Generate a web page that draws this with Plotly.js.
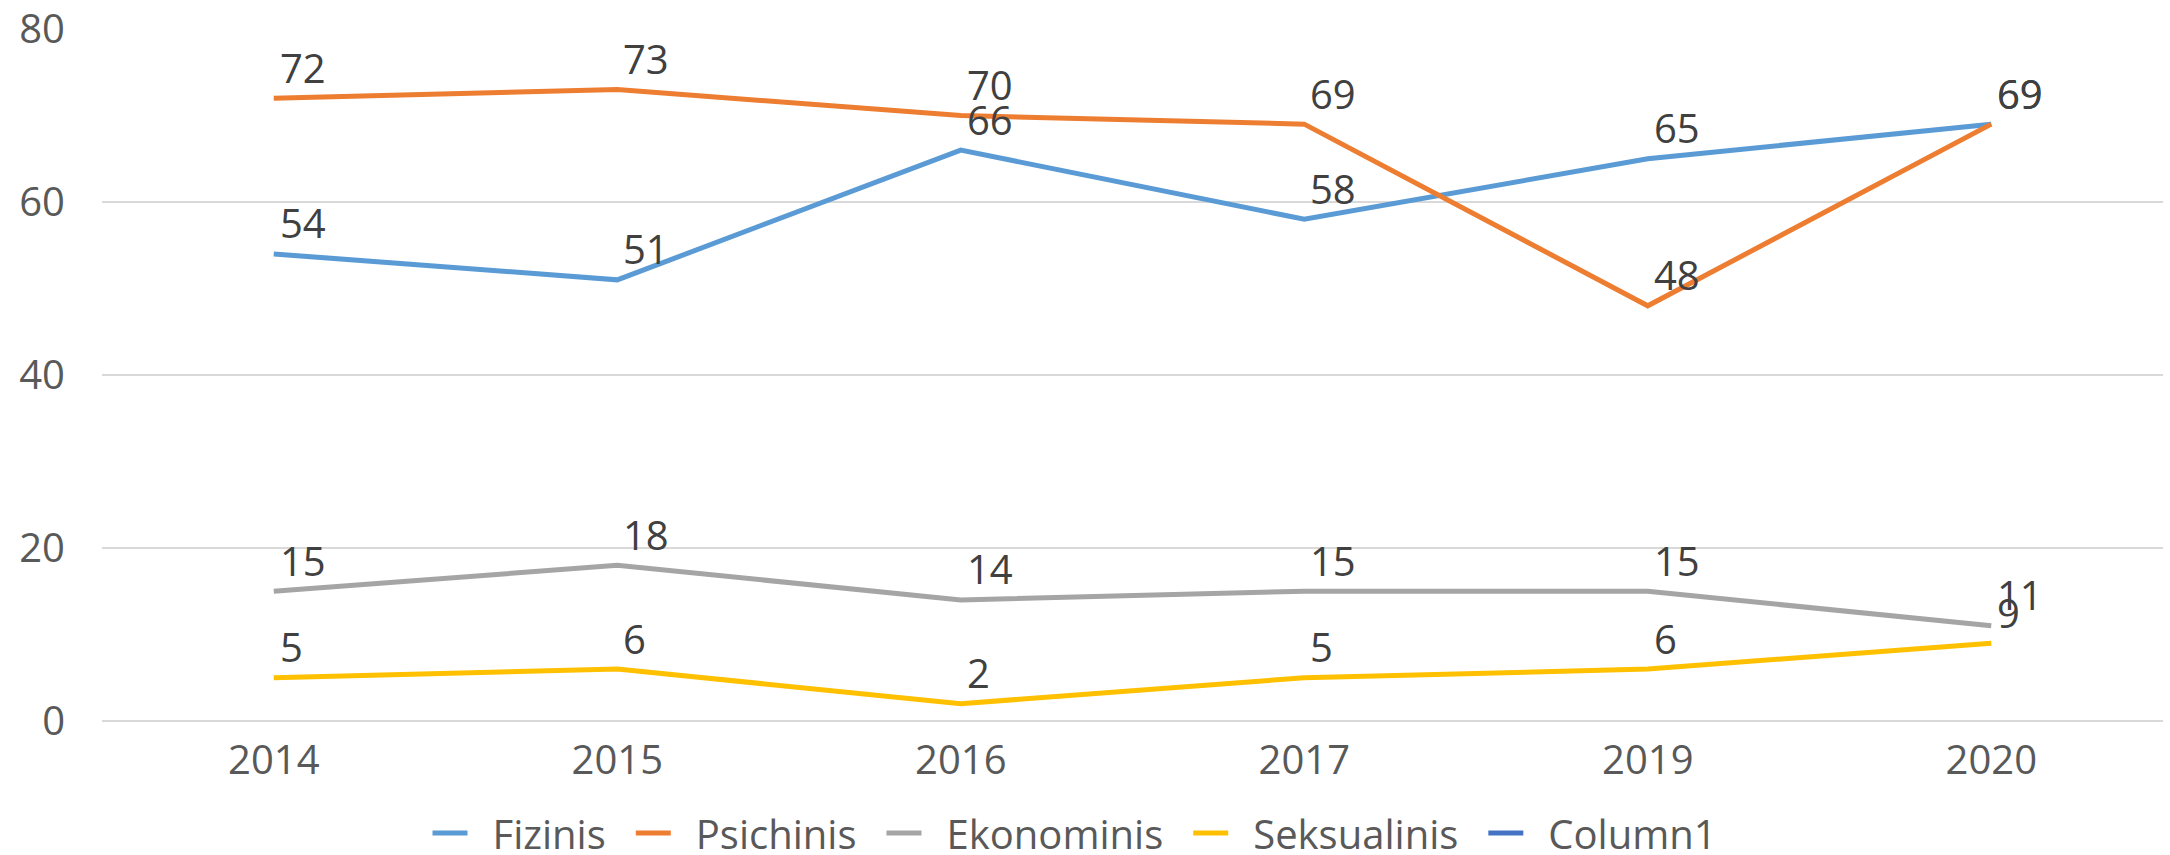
<!DOCTYPE html>
<html>
<head>
<meta charset="utf-8">
<script src="https://cdn.plot.ly/plotly-3.0.1.min.js"></script>
<style>html,body{margin:0;padding:0;background:#fff;}#chart{width:2170px;height:855px;}</style>
</head>
<body>
<div id="chart"></div>
<script>
const years = ["2014", "2015", "2016", "2017", "2019", "2020"];
const fizinis = [54, 51, 66, 58, 65, 69];
const psichinis = [72, 73, 70, 69, 48, 69];
const ekonominis = [15, 18, 14, 15, 15, 11];
const seksualinis = [5, 6, 2, 5, 6, 9];
const column1 = [null, null, null, null, null, null];
const yTicks = [0, 20, 40, 60, 80];

const FONT = "Open Sans, Noto Sans, DejaVu Sans, sans-serif";
const series = [
  {name: "Fizinis", y: fizinis, color: "#5B9BD5"},
  {name: "Psichinis", y: psichinis, color: "#ED7D31"},
  {name: "Ekonominis", y: ekonominis, color: "#A5A5A5"},
  {name: "Seksualinis", y: seksualinis, color: "#FFC000"},
  {name: "Column1", y: column1, color: "#4472C4"}
];

const traces = series.map(s => ({
  type: "scatter", mode: "lines",
  name: "\u2002" + s.name + "\u2002",
  x: years, y: s.y,
  line: {color: s.color, width: 5},
  hoverinfo: "skip"
}));

const annotations = [];
series.forEach(s => {
  s.y.forEach((v, i) => {
    if (v === null) return;
    annotations.push({
      x: i, y: v, xref: "x", yref: "y",
      text: String(v), showarrow: false,
      xanchor: "left", yanchor: "middle",
      xshift: 4, yshift: 31,
      font: {family: FONT, size: 40, color: "#404040"}
    });
  });
});

const layout = {
  width: 2170, height: 855,
  margin: {l: 102, r: 7, t: 29, b: 134, pad: 0},
  paper_bgcolor: "#ffffff", plot_bgcolor: "#ffffff",
  showlegend: true,
  legend: {
    orientation: "h", xref: "container", yref: "container",
    x: 0.5, xanchor: "center", y: 0.0257, yanchor: "middle",
    font: {family: FONT, size: 40, color: "#595959"},
    itemwidth: 35, traceorder: "normal"
  },
  xaxis: {
    type: "category", range: [-0.5, 5.5],
    showgrid: false, zeroline: false, showline: false,
    ticks: "", ticklabelstandoff: 12,
    tickfont: {family: FONT, size: 40, color: "#595959"}
  },
  yaxis: {
    range: [0, 80], tickvals: yTicks, ticktext: yTicks.map(String),
    showgrid: true, gridcolor: "#D9D9D9", gridwidth: 2.5,
    zeroline: true, zerolinecolor: "#D9D9D9", zerolinewidth: 2.5,
    showline: false, ticks: "", ticklabelstandoff: 36,
    tickfont: {family: FONT, size: 40, color: "#595959"}
  },
  annotations: annotations
};

Plotly.newPlot("chart", traces, layout, {staticPlot: true, displayModeBar: false});
</script>
</body>
</html>
